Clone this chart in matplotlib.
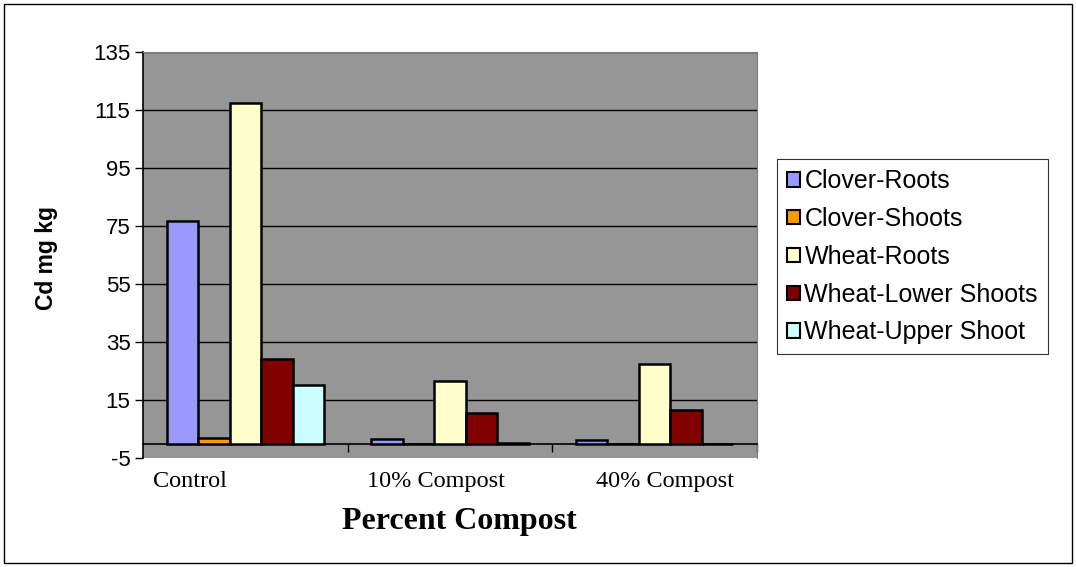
import matplotlib
matplotlib.use("Agg")
import matplotlib.pyplot as plt
import numpy as np
from matplotlib.patches import Rectangle

# Dados
categorias = ["Control", "10% Compost", "40% Compost"]
series = ["Clover-Roots", "Clover-Shoots", "Wheat-Roots", "Wheat-Lower Shoots", "Wheat-Upper Shoot"]
clover_roots = [76.8, 1.6, 1.2]
clover_shoots = [2.0, 0.0, 0.0]
wheat_roots = [117.3, 21.6, 27.5]
wheat_lower = [29.1, 10.6, 11.6]
wheat_upper = [20.3, 0.3, 0.0]
y_ticks = [-5, 15, 35, 55, 75, 95, 115, 135]

# Cores no estilo Excel
cores = ["#9999FF", "#FF9900", "#FFFFCC", "#800000", "#CCFFFF"]
valores = [clover_roots, clover_shoots, wheat_roots, wheat_lower, wheat_upper]

fig = plt.figure(figsize=(10.76, 5.67), dpi=100)
ax = fig.add_axes([143 / 1076, 1 - 458 / 567, (757 - 143) / 1076, (458 - 52) / 567])
ax.set_facecolor("#969696")

x = np.arange(len(categorias))
largura = 1 / 6.5
for j, (nome, vals, cor) in enumerate(zip(series, valores, cores)):
    ax.bar(x + (j - 2) * largura, vals, largura, color=cor, edgecolor="black",
           linewidth=1.8, label=nome, zorder=3)

ax.set_xlim(-0.5, 2.5)
ax.set_ylim(-5, 135)
ax.set_yticks(y_ticks)
ax.set_yticklabels([str(v) for v in y_ticks])
ax.yaxis.grid(True, color="black", linewidth=1.0, zorder=1)
ax.get_ygridlines()[0].set_visible(False)
ax.set_axisbelow(True)
ax.tick_params(axis="y", direction="out", length=6, width=1, labelsize=16, pad=3)
for lab in ax.get_yticklabels():
    lab.set_family("Liberation Sans")

# Eixo das categorias cruzando em zero
ax.spines["bottom"].set_position(("data", 0))
ax.spines["bottom"].set_linewidth(1.2)
ax.spines["left"].set_linewidth(1.2)
ax.spines["top"].set_color("#808080")
ax.spines["right"].set_color("#808080")
ax.set_xticks([0.5, 1.5, 2.5])
ax.set_xticklabels([])
ax.tick_params(axis="x", direction="out", length=6, width=1)

# Rótulos das categorias abaixo da área do gráfico
desloc = [-0.27, -0.07, 0.05]
for i, nome in enumerate(categorias):
    ax.text(x[i] + desloc[i], -0.057, nome, transform=ax.get_xaxis_transform(),
            ha="center", va="center", fontsize=17.5, family="Liberation Serif")

fig.text(459 / 1076, 1 - 522 / 567, "Percent Compost", ha="center", va="center",
         fontsize=23, fontweight="bold", family="Liberation Serif")
fig.text(47 / 1076, 1 - 258 / 567, "Cd mg kg", ha="center", va="center", rotation=90,
         fontsize=16.5, fontweight="bold", family="Liberation Sans")

leg = ax.legend(loc="center left", bbox_to_anchor=(777 / 1076, 1 - 257 / 567),
                bbox_transform=fig.transFigure, frameon=True, fancybox=False,
                edgecolor="black", prop={"family": "Liberation Sans", "size": 18},
                handlelength=0.5, handleheight=0.5, handletextpad=0.2,
                labelspacing=0.55, borderpad=0.4, borderaxespad=0)
leg.get_frame().set_linewidth(0.8)
for h in leg.legend_handles:
    h.set_linewidth(1.5)

# Borda da figura
fig.patches.append(Rectangle((0.004, 0.007), 0.992, 0.986, transform=fig.transFigure,
                             fill=False, edgecolor="black", linewidth=1.0))

plt.savefig("out.png", dpi=100)
plt.close()
